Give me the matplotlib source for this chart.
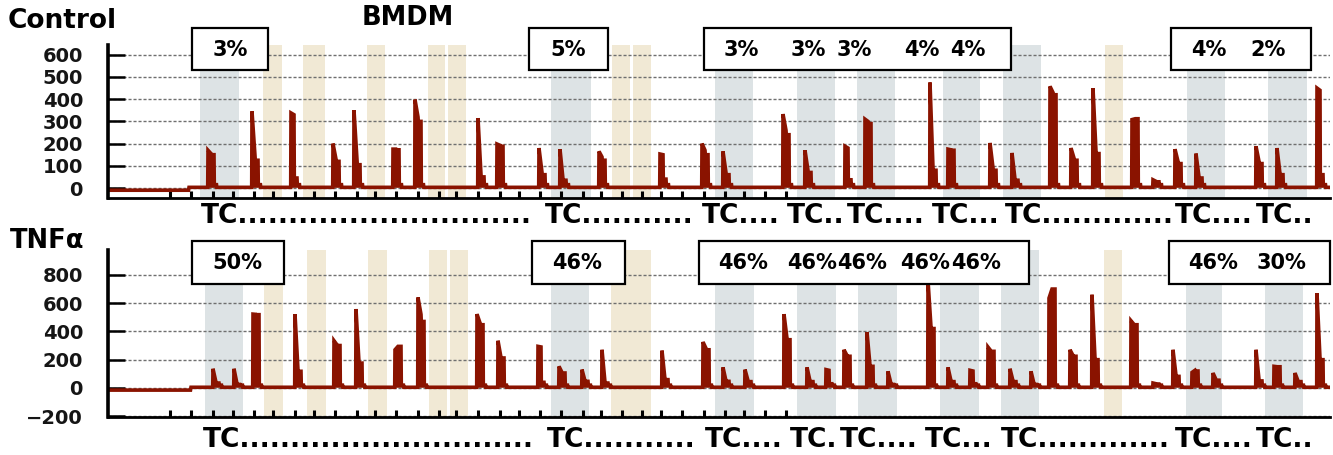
import matplotlib
matplotlib.use('Agg')
import matplotlib.pyplot as plt
import numpy as np
from matplotlib.patches import Rectangle
from matplotlib.transforms import blended_transform_factory

# ---------------- data (x in trace units, y in signal units) ----------------
tick_x = [170, 191, 213, 233, 254, 273, 295, 314, 335, 357, 375, 396, 418, 439,
          456, 478, 500, 519, 540, 561, 583, 601, 622, 642, 661, 682, 704, 725,
          744, 765, 786]

# Control panel spikes: onset, peak, end of main part, shoulder
ctrl_x = [208, 252, 291, 333, 354, 393, 415, 478, 497, 539, 560, 599, 660, 702,
          723, 783, 805, 845, 865, 930, 948, 990, 1012, 1050, 1071, 1093, 1132,
          1153, 1175, 1196, 1256, 1277, 1317]
ctrl_peak = [170, 345, 338, 200, 350, 175, 398, 315, 198, 180, 175, 165, 153, 200,
             165, 333, 170, 188, 310, 475, 175, 203, 158, 458, 180, 450, 308,
             37, 175, 155, 188, 180, 450]
ctrl_end = [155, 140, 330, 130, 120, 175, 320, 60, 192, 70, 40, 140, 150, 170,
            70, 260, 80, 180, 300, 90, 172, 90, 40, 430, 135, 165, 312,
            30, 120, 50, 120, 65, 440]
ctrl_shoulder = [150, 125, 45, 120, 105, 172, 300, 50, 188, 60, 35, 125, 40, 150,
                 60, 240, 70, 37, 290, 80, 170, 80, 35, 420, 125, 155, 312,
                 28, 110, 45, 110, 60, 60]

# TNFa panel spikes
tnf_x = [213, 234, 253, 295, 334, 356, 395, 418, 477, 498, 538, 559, 582, 602,
         662, 703, 723, 745, 784, 807, 826, 844, 867, 888, 928, 948, 970, 988,
         1010, 1031, 1049, 1070, 1092, 1131, 1153, 1173, 1192, 1213, 1256, 1274,
         1295, 1317]
tnf_peak = [136, 136, 522, 522, 334, 558, 270, 640, 522, 334, 294, 153, 130, 270,
            264, 325, 146, 130, 522, 146, 130, 270, 395, 118, 760, 146, 125, 289,
            136, 118, 635, 270, 659, 475, 35, 270, 110, 106, 270, 153, 106, 670]
tnf_end = [40, 30, 520, 125, 305, 180, 294, 520, 460, 215, 290, 110, 50, 40,
           60, 280, 50, 50, 350, 50, 125, 230, 160, 30, 430, 50, 120, 262,
           50, 30, 699, 230, 210, 450, 30, 90, 125, 60, 60, 150, 50, 210]
tnf_shoulder = [35, 25, 518, 118, 300, 176, 294, 470, 447, 212, 40, 106, 47, 35,
                59, 270, 47, 45, 341, 45, 30, 224, 153, 25, 420, 45, 30, 259,
                45, 25, 699, 224, 200, 447, 28, 82, 120, 55, 50, 150, 45, 200]

ctrl_grey = [(200, 239), (551, 591), (715, 753), (797, 835), (857, 895),
             (943, 980), (1003, 1041), (1187, 1225), (1268, 1307)]
ctrl_beige = [(263, 282), (303, 325), (367, 385), (428, 445), (448, 466),
              (612, 630), (633, 651), (1105, 1123)]
tnf_grey = [(205, 243), (551, 589), (715, 754), (797, 836), (858, 897),
            (940, 979), (1001, 1039), (1186, 1222), (1265, 1303)]
tnf_beige = [(264, 283), (307, 326), (368, 387), (429, 447), (450, 468),
             (611, 651), (1104, 1122)]

ctrl_boxes = [((192, 268), ['3%'], [230]),
              ((529, 608), ['5%'], [568]),
              ((704, 1011), ['3%', '3%', '3%', '4%', '4%'], [741, 808, 854, 922, 968]),
              ((1171, 1311), ['4%', '2%'], [1209, 1268])]
tnf_boxes = [((192, 284), ['50%'], [237]),
             ((532, 625), ['46%'], [577]),
             ((699, 1029), ['46%', '46%', '46%', '46%', '46%'], [743, 812, 862, 925, 976]),
             ((1169, 1330), ['46%', '30%'], [1213, 1281])]

ctrl_tc_x = [201, 545, 702, 787, 847, 932, 1005, 1175, 1256]
ctrl_tc = ['TC' + '.' * 29, 'TC' + '.' * 11, 'TC....', 'TC..', 'TC....',
           'TC...', 'TC' + '.' * 13, 'TC....', 'TC..']
tnf_tc_x = [203, 547, 705, 790, 840, 925, 1001, 1175, 1256]
tnf_tc = ['TC' + '.' * 29, 'TC' + '.' * 11, 'TC....', 'TC.', 'TC....',
          'TC...', 'TC' + '.' * 13, 'TC....', 'TC..']

ctrl_yticks = [0, 100, 200, 300, 400, 500, 600]
tnf_yticks = [-200, 0, 200, 400, 600, 800]

# ---------------- styling ----------------
RED = '#8a1300'
GREY = '#dde3e5'
BEIGE = '#f1e9d5'
XL = (108, 1330)

W, H = 1333, 455
fig = plt.figure(figsize=(W / 100, H / 100), dpi=100)


def build_trace(xs, pk, en, sh, pre_base, base, step_at, bump):
    X = [XL[0], step_at - 0.5, step_at]
    Y = [pre_base, pre_base, base]
    for x, a, b, c in zip(xs, pk, en, sh):
        X += [x - 0.3, x, x + 3.0, x + 3.3, x + 6.0, x + 6.3, x + 8.5, x + 8.8]
        Y += [base, a, b, c, c, bump, bump, base]
    X.append(XL[1])
    Y.append(base)
    return np.array(X, float), np.array(Y, float)


def panel(rect, ylim, yticks, grey, beige, xs, pk, en, sh, pre_base, base,
          step_at, bump, boxes, box_y, text_y, tcx, tcs, tc_y):
    ax = fig.add_axes(rect)
    ax.set_xlim(*XL)
    ax.set_ylim(*ylim)
    for a, b in grey:
        ax.axvspan(a, b, color=GREY, lw=0, zorder=0.5)
    for a, b in beige:
        ax.axvspan(a, b, color=BEIGE, lw=0, zorder=0.5)
    for v in yticks:
        ax.axhline(v, color='#6f6f6f', lw=1.0, ls=(0, (2.2, 1.4)), zorder=1)
    X, Y = build_trace(xs, pk, en, sh, pre_base, base, step_at, bump)
    ax.fill_between(X, Y, np.minimum(Y, base), color=RED, lw=0, zorder=3)
    ax.plot(X, Y, color=RED, lw=2.6, zorder=3.5, solid_joinstyle='miter')

    for s in ['top', 'right']:
        ax.spines[s].set_visible(False)
    ax.spines['left'].set_linewidth(2.6)
    ax.spines['bottom'].set_linewidth(2.0)
    ax.spines['left'].set_zorder(4)
    ax.spines['bottom'].set_zorder(4)
    ax.set_yticks(yticks)
    ax.set_yticklabels([str(v) if v >= 0 else '\u2212' + str(-v) for v in yticks])
    ax.tick_params(axis='y', direction='in', length=12, width=1.8, pad=18,
                   labelsize=14, labelcolor='#151515')
    for lab in ax.get_yticklabels():
        lab.set_fontweight('bold')
    ax.set_xticks(tick_x)
    ax.set_xticklabels([])
    ax.tick_params(axis='x', direction='in', length=5, width=2.2)

    tr = blended_transform_factory(ax.transData, ax.transAxes)
    for (x0, x1), labels, lx in boxes:
        ax.add_patch(Rectangle((x0, box_y[0]), x1 - x0, box_y[1] - box_y[0],
                               transform=tr, facecolor='white', edgecolor='black',
                               lw=1.6, clip_on=False, zorder=6))
        for t, px in zip(labels, lx):
            ax.text(px, text_y, t, transform=tr, ha='center', va='center',
                    fontsize=15, fontweight='bold', zorder=7, clip_on=False)
    for px, t in zip(tcx, tcs):
        ax.text(px, tc_y, t, transform=tr, ha='left', va='center',
                fontsize=19, fontweight='bold', clip_on=False)
    return ax


# Control panel: axes spans pixel rows 45..198
panel([108 / W, 1 - 198 / H, (XL[1] - XL[0]) / W, 153 / H], (-45, 644),
      ctrl_yticks, ctrl_grey, ctrl_beige, ctrl_x, ctrl_peak, ctrl_end,
      ctrl_shoulder, -10, 3, 189, 15, ctrl_boxes, (0.837, 1.111), 0.97,
      ctrl_tc_x, ctrl_tc, -0.115)

# TNFa panel: axes spans pixel rows 250..417
panel([108 / W, 1 - 417 / H, (XL[1] - XL[0]) / W, 167 / H], (-205, 975),
      tnf_yticks, tnf_grey, tnf_beige, tnf_x, tnf_peak, tnf_end, tnf_shoulder,
      -15, 5, 191, 20, tnf_boxes, (0.796, 1.054), 0.925,
      tnf_tc_x, tnf_tc, -0.14)

fig.text(8 / W, 1 - 21 / H, 'Control', fontsize=19, fontweight='bold',
         ha='left', va='center')
fig.text(362 / W, 1 - 18 / H, 'BMDM', fontsize=18.5, fontweight='bold',
         ha='left', va='center')
fig.text(10 / W, 1 - 241 / H, 'TNFα', fontsize=18.5, fontweight='bold',
         ha='left', va='center')

fig.savefig('out.png', dpi=100, facecolor='white')
